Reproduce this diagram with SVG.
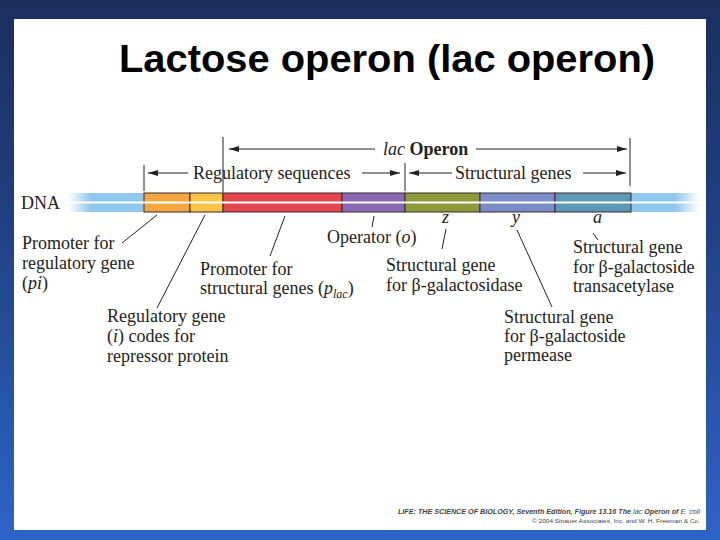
<svg xmlns="http://www.w3.org/2000/svg" width="720" height="540" viewBox="0 0 720 540">
<defs>
<linearGradient id="bg" x1="0" y1="0" x2="0" y2="1">
<stop offset="0" stop-color="#1b2f5f"/>
<stop offset="0.35" stop-color="#1f3d7c"/>
<stop offset="1" stop-color="#2e63c8"/>
</linearGradient>
<linearGradient id="fadeL" x1="0" y1="0" x2="1" y2="0">
<stop offset="0" stop-color="#8fc8ec" stop-opacity="0"/>
<stop offset="0.3" stop-color="#8fc8ec" stop-opacity="1"/>
<stop offset="1" stop-color="#8fc8ec"/>
</linearGradient>
<linearGradient id="fadeR" x1="0" y1="0" x2="1" y2="0">
<stop offset="0" stop-color="#8fc8ec"/>
<stop offset="0.65" stop-color="#8fc8ec" stop-opacity="1"/>
<stop offset="1" stop-color="#8fc8ec" stop-opacity="0"/>
</linearGradient>
<marker id="ah" viewBox="0 0 10 6" refX="10" refY="3" markerWidth="10" markerHeight="6" markerUnits="userSpaceOnUse" orient="auto">
<path d="M0,0 L10,3 L0,6 z" fill="#222"/>
</marker>
<style>
.t{font-family:"Liberation Serif","Times New Roman",serif;font-size:18px;fill:#222}
.i{font-style:italic}
.b{font-weight:bold}
.ln{stroke:#222;stroke-width:1;fill:none}
.seg{stroke:#3a2a2a;stroke-width:1}
.ft{font-family:"Liberation Sans",Arial,sans-serif;fill:#444}
</style>
</defs>
<rect x="0" y="0" width="720" height="540" fill="url(#bg)"/>
<rect x="14" y="19" width="692" height="511" fill="#ffffff"/>
<text x="119" y="72" font-family="Liberation Sans, Arial, sans-serif" font-weight="bold" font-size="39" textLength="536" lengthAdjust="spacingAndGlyphs" fill="#000">Lactose operon (lac operon)</text>

<g id="dna">
<rect x="68" y="193" width="76" height="19" fill="url(#fadeL)"/>
<rect x="631" y="193" width="68" height="19" fill="url(#fadeR)"/>
<rect class="seg" x="144" y="193" width="46" height="19" fill="#f4a640"/>
<rect class="seg" x="190" y="193" width="33" height="19" fill="#f9c542"/>
<rect class="seg" x="223" y="193" width="119" height="19" fill="#e4464f"/>
<rect class="seg" x="342" y="193" width="63" height="19" fill="#8a68b4"/>
<rect class="seg" x="405" y="193" width="75" height="19" fill="#8c9a3c"/>
<rect class="seg" x="480" y="193" width="75" height="19" fill="#7b8ccb"/>
<rect class="seg" x="555" y="193" width="76" height="19" fill="#5c98b8"/>
<line x1="68" y1="202.5" x2="699" y2="202.5" stroke="#ffffff" stroke-width="2"/>
<text class="t" x="21" y="209">DNA</text>
</g>

<g id="connectors">
<line class="ln" x1="144" y1="165" x2="144" y2="191"/>
<line class="ln" x1="223" y1="137" x2="223" y2="192"/>
<line class="ln" x1="405" y1="163" x2="405" y2="191"/>
<line class="ln" x1="630" y1="138" x2="630" y2="186"/>
<line class="ln" x1="375" y1="149" x2="229" y2="149" marker-end="url(#ah)"/>
<line class="ln" x1="476" y1="149" x2="627" y2="149" marker-end="url(#ah)"/>
<line class="ln" x1="188" y1="173" x2="148" y2="173" marker-end="url(#ah)"/>
<line class="ln" x1="362" y1="173" x2="400" y2="173" marker-end="url(#ah)"/>
<line class="ln" x1="452" y1="173" x2="409" y2="173" marker-end="url(#ah)"/>
<line class="ln" x1="583" y1="173" x2="626" y2="173" marker-end="url(#ah)"/>
<line class="ln" x1="157" y1="215" x2="122" y2="243"/>
<line class="ln" x1="205" y1="215" x2="157" y2="308"/>
<line class="ln" x1="285" y1="216" x2="270" y2="256"/>
<line class="ln" x1="374" y1="216" x2="372" y2="227"/>
<line class="ln" x1="446" y1="229" x2="442" y2="249"/>
<line class="ln" x1="517" y1="230" x2="552" y2="307"/>
<line class="ln" x1="593" y1="233" x2="598" y2="240"/>
</g>

<g id="header-labels">
<text class="t" x="383" y="155"><tspan class="i">lac</tspan> <tspan class="b">Operon</tspan></text>
<text class="t" x="193" y="179">Regulatory sequences</text>
<text class="t" x="455" y="179">Structural genes</text>
</g>

<g id="gene-letters">
<text class="t i" x="442" y="223">z</text>
<text class="t i" x="512" y="223">y</text>
<text class="t i" x="593" y="223">a</text>
</g>

<g id="label-pi">
<text class="t" x="22" y="249">Promoter for</text>
<text class="t" x="22" y="269">regulatory gene</text>
<text class="t" x="22" y="289">(<tspan class="i">pi</tspan>)</text>
</g>
<g id="label-i">
<text class="t" x="107" y="322">Regulatory gene</text>
<text class="t" x="107" y="342">(<tspan class="i">i</tspan>) codes for</text>
<text class="t" x="107" y="362">repressor protein</text>
</g>
<g id="label-plac">
<text class="t" x="200" y="275">Promoter for</text>
<text class="t" x="200" y="294">structural genes (<tspan class="i">p</tspan><tspan class="i" font-size="12" dy="4">lac</tspan><tspan dy="-4">)</tspan></text>
</g>
<g id="label-o">
<text class="t" x="327" y="243">Operator (<tspan class="i">o</tspan>)</text>
</g>
<g id="label-z">
<text class="t" x="386" y="271">Structural gene</text>
<text class="t" x="386" y="291">for β-galactosidase</text>
</g>
<g id="label-y">
<text class="t" x="504" y="323">Structural gene</text>
<text class="t" x="504" y="342">for β-galactoside</text>
<text class="t" x="504" y="361">permease</text>
</g>
<g id="label-a">
<text class="t" x="573" y="253">Structural gene</text>
<text class="t" x="573" y="273">for β-galactoside</text>
<text class="t" x="573" y="292">transacetylase</text>
</g>

<g id="footer">
<text class="ft" x="700" y="514" font-size="7" text-anchor="end" font-style="italic" font-weight="bold" textLength="302" lengthAdjust="spacingAndGlyphs">LIFE: THE SCIENCE OF BIOLOGY, Seventh Edition, Figure 13.16 The <tspan font-weight="normal">lac</tspan> Operon of <tspan font-weight="normal">E. coli</tspan></text>
<text class="ft" x="700" y="523" font-size="6.2" text-anchor="end" textLength="168" lengthAdjust="spacingAndGlyphs">© 2004 Sinauer Associates, Inc. and W. H. Freeman &amp; Co.</text>
</g>
</svg>
